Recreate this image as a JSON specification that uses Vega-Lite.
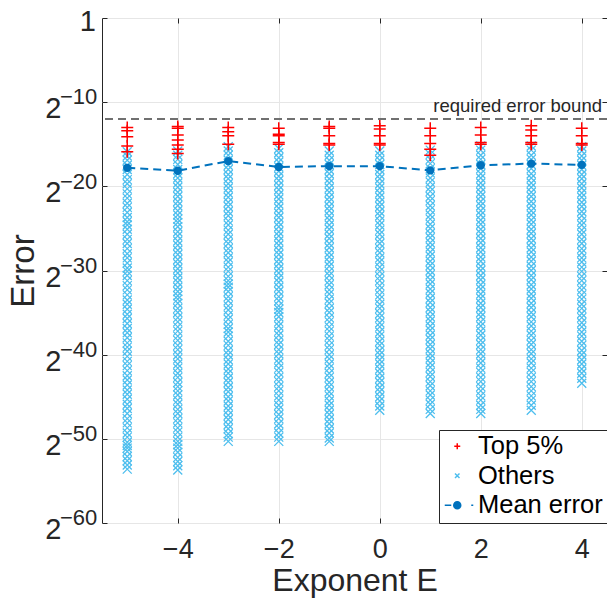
{
"$schema":"https://vega.github.io/schema/vega-lite/v6.json",
"width":505,"height":505,
"autosize":{"type":"none"},
"padding":{"left":102,"top":18,"right":0,"bottom":82},
"background":"white",
"config":{
"font":"Liberation Sans",
"view":{"stroke":"#262626","strokeWidth":1},
"axis":{"domain":false,"tickColor":"#262626","tickWidth":1,"tickSize":-5,"labelColor":"#262626","titleColor":"#262626","labelFont":"Liberation Sans","titleFont":"Liberation Sans","titleFontWeight":"normal","gridColor":"#e6e6e6","gridWidth":1,"labelFlush":false,"labelOverlap":false},
"legend":{"orient":"bottom-right","offset":0,"padding":3.5,"rowPadding":2.5,"strokeColor":"#262626","fillColor":"white","labelFontSize":25.5,"labelFont":"Liberation Sans","labelColor":"#000000","symbolSize":100,"symbolOffset":2,"labelOffset":8,"symbolStrokeWidth":1.5,"labelLimit":300}
},
"data":{"values":[
{"E":-5,"s":"m","v":-17.8},{"E":-4,"s":"m","v":-18.15},{"E":-3,"s":"m","v":-17.0},{"E":-2,"s":"m","v":-17.7},{"E":-1,"s":"m","v":-17.6},{"E":0,"s":"m","v":-17.6},{"E":1,"s":"m","v":-18.1},{"E":2,"s":"m","v":-17.5},{"E":3,"s":"m","v":-17.3},{"E":4,"s":"m","v":-17.45},
{"E":-5,"s":"t","v":-13.0},{"E":-5,"s":"t","v":-13.4},{"E":-5,"s":"t","v":-14.1},{"E":-5,"s":"t","v":-15.2},{"E":-5,"s":"t","v":-15.9},
{"E":-4,"s":"t","v":-12.9},{"E":-4,"s":"t","v":-13.1},{"E":-4,"s":"t","v":-13.9},{"E":-4,"s":"t","v":-14.5},{"E":-4,"s":"t","v":-15.1},{"E":-4,"s":"t","v":-15.6},{"E":-4,"s":"t","v":-16.1},
{"E":-3,"s":"t","v":-13.0},{"E":-3,"s":"t","v":-13.5},{"E":-3,"s":"t","v":-14.0},{"E":-3,"s":"t","v":-15.0},
{"E":-2,"s":"t","v":-13.1},{"E":-2,"s":"t","v":-13.8},{"E":-2,"s":"t","v":-14.0},{"E":-2,"s":"t","v":-14.8},{"E":-2,"s":"t","v":-15.0},
{"E":-1,"s":"t","v":-12.9},{"E":-1,"s":"t","v":-13.1},{"E":-1,"s":"t","v":-14.0},{"E":-1,"s":"t","v":-14.9},{"E":-1,"s":"t","v":-15.1},
{"E":0,"s":"t","v":-12.8},{"E":0,"s":"t","v":-13.2},{"E":0,"s":"t","v":-14.0},{"E":0,"s":"t","v":-14.9},{"E":0,"s":"t","v":-15.1},
{"E":1,"s":"t","v":-13.1},{"E":1,"s":"t","v":-14.0},{"E":1,"s":"t","v":-14.9},{"E":1,"s":"t","v":-15.6},{"E":1,"s":"t","v":-16.3},
{"E":2,"s":"t","v":-13.0},{"E":2,"s":"t","v":-13.9},{"E":2,"s":"t","v":-14.8},{"E":2,"s":"t","v":-15.0},
{"E":3,"s":"t","v":-12.8},{"E":3,"s":"t","v":-13.3},{"E":3,"s":"t","v":-14.0},{"E":3,"s":"t","v":-14.8},{"E":3,"s":"t","v":-15.0},
{"E":4,"s":"t","v":-13.1},{"E":4,"s":"t","v":-14.0},{"E":4,"s":"t","v":-14.9},{"E":4,"s":"t","v":-15.1},
{"E":-5,"s":"o","v":-15.9},{"E":-5,"s":"o","v":-16.4},{"E":-5,"s":"o","v":-16.9},{"E":-5,"s":"o","v":-17.5},{"E":-5,"s":"o","v":-18.0},{"E":-5,"s":"o","v":-18.6},{"E":-5,"s":"o","v":-19.2},{"E":-5,"s":"o","v":-19.7},{"E":-5,"s":"o","v":-20.3},{"E":-5,"s":"o","v":-20.9},{"E":-5,"s":"o","v":-21.4},{"E":-5,"s":"o","v":-22.0},{"E":-5,"s":"o","v":-22.5},{"E":-5,"s":"o","v":-23.1},{"E":-5,"s":"o","v":-23.7},{"E":-5,"s":"o","v":-24.2},{"E":-5,"s":"o","v":-24.6},{"E":-5,"s":"o","v":-25.1},{"E":-5,"s":"o","v":-25.7},{"E":-5,"s":"o","v":-26.3},{"E":-5,"s":"o","v":-26.8},{"E":-5,"s":"o","v":-27.4},{"E":-5,"s":"o","v":-28.0},{"E":-5,"s":"o","v":-28.5},{"E":-5,"s":"o","v":-29.1},{"E":-5,"s":"o","v":-29.7},{"E":-5,"s":"o","v":-30.1},{"E":-5,"s":"o","v":-30.6},{"E":-5,"s":"o","v":-31.2},{"E":-5,"s":"o","v":-31.8},{"E":-5,"s":"o","v":-32.3},{"E":-5,"s":"o","v":-32.9},{"E":-5,"s":"o","v":-33.5},{"E":-5,"s":"o","v":-34.0},{"E":-5,"s":"o","v":-34.6},{"E":-5,"s":"o","v":-35.2},{"E":-5,"s":"o","v":-35.7},{"E":-5,"s":"o","v":-36.3},{"E":-5,"s":"o","v":-36.9},{"E":-5,"s":"o","v":-37.4},{"E":-5,"s":"o","v":-38.0},{"E":-5,"s":"o","v":-38.6},{"E":-5,"s":"o","v":-39.1},{"E":-5,"s":"o","v":-39.6},{"E":-5,"s":"o","v":-40.2},{"E":-5,"s":"o","v":-40.8},{"E":-5,"s":"o","v":-41.3},{"E":-5,"s":"o","v":-41.9},{"E":-5,"s":"o","v":-42.5},{"E":-5,"s":"o","v":-43.0},{"E":-5,"s":"o","v":-43.6},{"E":-5,"s":"o","v":-44.2},{"E":-5,"s":"o","v":-44.7},{"E":-5,"s":"o","v":-45.3},{"E":-5,"s":"o","v":-45.9},{"E":-5,"s":"o","v":-46.4},{"E":-5,"s":"o","v":-47.0},{"E":-5,"s":"o","v":-47.6},{"E":-5,"s":"o","v":-48.1},{"E":-5,"s":"o","v":-48.7},{"E":-5,"s":"o","v":-49.3},{"E":-5,"s":"o","v":-49.8},{"E":-5,"s":"o","v":-50.4},{"E":-5,"s":"o","v":-50.8},{"E":-5,"s":"o","v":-51.1},{"E":-5,"s":"o","v":-51.5},{"E":-5,"s":"o","v":-52.1},{"E":-5,"s":"o","v":-52.6},{"E":-5,"s":"o","v":-53.1},{"E":-5,"s":"o","v":-53.6},
{"E":-4,"s":"o","v":-15.8},{"E":-4,"s":"o","v":-16.3},{"E":-4,"s":"o","v":-16.8},{"E":-4,"s":"o","v":-17.4},{"E":-4,"s":"o","v":-18.0},{"E":-4,"s":"o","v":-18.5},{"E":-4,"s":"o","v":-19.0},{"E":-4,"s":"o","v":-19.6},{"E":-4,"s":"o","v":-20.1},{"E":-4,"s":"o","v":-20.7},{"E":-4,"s":"o","v":-21.2},{"E":-4,"s":"o","v":-21.8},{"E":-4,"s":"o","v":-22.3},{"E":-4,"s":"o","v":-22.9},{"E":-4,"s":"o","v":-23.4},{"E":-4,"s":"o","v":-23.9},{"E":-4,"s":"o","v":-24.3},{"E":-4,"s":"o","v":-24.8},{"E":-4,"s":"o","v":-25.4},{"E":-4,"s":"o","v":-25.9},{"E":-4,"s":"o","v":-26.5},{"E":-4,"s":"o","v":-27.0},{"E":-4,"s":"o","v":-27.6},{"E":-4,"s":"o","v":-28.1},{"E":-4,"s":"o","v":-28.7},{"E":-4,"s":"o","v":-29.2},{"E":-4,"s":"o","v":-29.8},{"E":-4,"s":"o","v":-30.3},{"E":-4,"s":"o","v":-30.9},{"E":-4,"s":"o","v":-31.4},{"E":-4,"s":"o","v":-32.0},{"E":-4,"s":"o","v":-32.5},{"E":-4,"s":"o","v":-33.0},{"E":-4,"s":"o","v":-33.4},{"E":-4,"s":"o","v":-33.9},{"E":-4,"s":"o","v":-34.5},{"E":-4,"s":"o","v":-35.0},{"E":-4,"s":"o","v":-35.6},{"E":-4,"s":"o","v":-36.1},{"E":-4,"s":"o","v":-36.7},{"E":-4,"s":"o","v":-37.2},{"E":-4,"s":"o","v":-37.8},{"E":-4,"s":"o","v":-38.3},{"E":-4,"s":"o","v":-38.9},{"E":-4,"s":"o","v":-39.4},{"E":-4,"s":"o","v":-40.0},{"E":-4,"s":"o","v":-40.5},{"E":-4,"s":"o","v":-41.1},{"E":-4,"s":"o","v":-41.6},{"E":-4,"s":"o","v":-42.2},{"E":-4,"s":"o","v":-42.7},{"E":-4,"s":"o","v":-43.3},{"E":-4,"s":"o","v":-43.8},{"E":-4,"s":"o","v":-44.3},{"E":-4,"s":"o","v":-44.8},{"E":-4,"s":"o","v":-45.4},{"E":-4,"s":"o","v":-45.9},{"E":-4,"s":"o","v":-46.5},{"E":-4,"s":"o","v":-47.0},{"E":-4,"s":"o","v":-47.6},{"E":-4,"s":"o","v":-48.1},{"E":-4,"s":"o","v":-48.7},{"E":-4,"s":"o","v":-49.2},{"E":-4,"s":"o","v":-49.8},{"E":-4,"s":"o","v":-50.3},{"E":-4,"s":"o","v":-50.7},{"E":-4,"s":"o","v":-51.1},{"E":-4,"s":"o","v":-51.6},{"E":-4,"s":"o","v":-52.2},{"E":-4,"s":"o","v":-52.7},{"E":-4,"s":"o","v":-53.2},{"E":-4,"s":"o","v":-53.7},
{"E":-3,"s":"o","v":-15.3},{"E":-3,"s":"o","v":-15.8},{"E":-3,"s":"o","v":-16.3},{"E":-3,"s":"o","v":-16.9},{"E":-3,"s":"o","v":-17.5},{"E":-3,"s":"o","v":-18.0},{"E":-3,"s":"o","v":-18.6},{"E":-3,"s":"o","v":-19.1},{"E":-3,"s":"o","v":-19.7},{"E":-3,"s":"o","v":-20.2},{"E":-3,"s":"o","v":-20.8},{"E":-3,"s":"o","v":-21.3},{"E":-3,"s":"o","v":-21.9},{"E":-3,"s":"o","v":-22.4},{"E":-3,"s":"o","v":-23.0},{"E":-3,"s":"o","v":-23.5},{"E":-3,"s":"o","v":-24.1},{"E":-3,"s":"o","v":-24.6},{"E":-3,"s":"o","v":-25.2},{"E":-3,"s":"o","v":-25.7},{"E":-3,"s":"o","v":-26.3},{"E":-3,"s":"o","v":-26.8},{"E":-3,"s":"o","v":-27.4},{"E":-3,"s":"o","v":-27.9},{"E":-3,"s":"o","v":-28.5},{"E":-3,"s":"o","v":-29.0},{"E":-3,"s":"o","v":-29.6},{"E":-3,"s":"o","v":-30.1},{"E":-3,"s":"o","v":-30.7},{"E":-3,"s":"o","v":-31.2},{"E":-3,"s":"o","v":-31.6},{"E":-3,"s":"o","v":-32.0},{"E":-3,"s":"o","v":-32.5},{"E":-3,"s":"o","v":-33.1},{"E":-3,"s":"o","v":-33.6},{"E":-3,"s":"o","v":-34.2},{"E":-3,"s":"o","v":-34.7},{"E":-3,"s":"o","v":-35.3},{"E":-3,"s":"o","v":-35.8},{"E":-3,"s":"o","v":-36.4},{"E":-3,"s":"o","v":-36.9},{"E":-3,"s":"o","v":-37.3},{"E":-3,"s":"o","v":-37.8},{"E":-3,"s":"o","v":-38.4},{"E":-3,"s":"o","v":-38.9},{"E":-3,"s":"o","v":-39.5},{"E":-3,"s":"o","v":-40.0},{"E":-3,"s":"o","v":-40.6},{"E":-3,"s":"o","v":-41.1},{"E":-3,"s":"o","v":-41.7},{"E":-3,"s":"o","v":-42.2},{"E":-3,"s":"o","v":-42.8},{"E":-3,"s":"o","v":-43.3},{"E":-3,"s":"o","v":-43.9},{"E":-3,"s":"o","v":-44.4},{"E":-3,"s":"o","v":-45.0},{"E":-3,"s":"o","v":-45.5},{"E":-3,"s":"o","v":-46.1},{"E":-3,"s":"o","v":-46.6},{"E":-3,"s":"o","v":-47.2},{"E":-3,"s":"o","v":-47.7},{"E":-3,"s":"o","v":-48.3},{"E":-3,"s":"o","v":-48.8},{"E":-3,"s":"o","v":-49.4},{"E":-3,"s":"o","v":-49.8},{"E":-3,"s":"o","v":-50.3},
{"E":-2,"s":"o","v":-15.5},{"E":-2,"s":"o","v":-16.0},{"E":-2,"s":"o","v":-16.6},{"E":-2,"s":"o","v":-17.1},{"E":-2,"s":"o","v":-17.7},{"E":-2,"s":"o","v":-18.2},{"E":-2,"s":"o","v":-18.8},{"E":-2,"s":"o","v":-19.3},{"E":-2,"s":"o","v":-19.9},{"E":-2,"s":"o","v":-20.4},{"E":-2,"s":"o","v":-21.0},{"E":-2,"s":"o","v":-21.5},{"E":-2,"s":"o","v":-22.1},{"E":-2,"s":"o","v":-22.6},{"E":-2,"s":"o","v":-23.2},{"E":-2,"s":"o","v":-23.7},{"E":-2,"s":"o","v":-24.3},{"E":-2,"s":"o","v":-24.8},{"E":-2,"s":"o","v":-25.4},{"E":-2,"s":"o","v":-25.9},{"E":-2,"s":"o","v":-26.5},{"E":-2,"s":"o","v":-27.0},{"E":-2,"s":"o","v":-27.6},{"E":-2,"s":"o","v":-28.1},{"E":-2,"s":"o","v":-28.7},{"E":-2,"s":"o","v":-29.2},{"E":-2,"s":"o","v":-29.8},{"E":-2,"s":"o","v":-30.3},{"E":-2,"s":"o","v":-30.9},{"E":-2,"s":"o","v":-31.4},{"E":-2,"s":"o","v":-32.0},{"E":-2,"s":"o","v":-32.5},{"E":-2,"s":"o","v":-33.1},{"E":-2,"s":"o","v":-33.6},{"E":-2,"s":"o","v":-34.2},{"E":-2,"s":"o","v":-34.6},{"E":-2,"s":"o","v":-35.0},{"E":-2,"s":"o","v":-35.5},{"E":-2,"s":"o","v":-36.1},{"E":-2,"s":"o","v":-36.6},{"E":-2,"s":"o","v":-37.2},{"E":-2,"s":"o","v":-37.7},{"E":-2,"s":"o","v":-38.3},{"E":-2,"s":"o","v":-38.8},{"E":-2,"s":"o","v":-39.4},{"E":-2,"s":"o","v":-39.9},{"E":-2,"s":"o","v":-40.5},{"E":-2,"s":"o","v":-41.0},{"E":-2,"s":"o","v":-41.6},{"E":-2,"s":"o","v":-42.1},{"E":-2,"s":"o","v":-42.7},{"E":-2,"s":"o","v":-43.2},{"E":-2,"s":"o","v":-43.8},{"E":-2,"s":"o","v":-44.3},{"E":-2,"s":"o","v":-44.9},{"E":-2,"s":"o","v":-45.4},{"E":-2,"s":"o","v":-46.0},{"E":-2,"s":"o","v":-46.5},{"E":-2,"s":"o","v":-47.1},{"E":-2,"s":"o","v":-47.6},{"E":-2,"s":"o","v":-48.2},{"E":-2,"s":"o","v":-48.7},{"E":-2,"s":"o","v":-49.3},{"E":-2,"s":"o","v":-49.8},{"E":-2,"s":"o","v":-50.3},
{"E":-1,"s":"o","v":-15.8},{"E":-1,"s":"o","v":-16.3},{"E":-1,"s":"o","v":-16.9},{"E":-1,"s":"o","v":-17.4},{"E":-1,"s":"o","v":-18.0},{"E":-1,"s":"o","v":-18.5},{"E":-1,"s":"o","v":-19.1},{"E":-1,"s":"o","v":-19.6},{"E":-1,"s":"o","v":-20.2},{"E":-1,"s":"o","v":-20.7},{"E":-1,"s":"o","v":-21.3},{"E":-1,"s":"o","v":-21.8},{"E":-1,"s":"o","v":-22.4},{"E":-1,"s":"o","v":-22.9},{"E":-1,"s":"o","v":-23.5},{"E":-1,"s":"o","v":-24.0},{"E":-1,"s":"o","v":-24.6},{"E":-1,"s":"o","v":-25.1},{"E":-1,"s":"o","v":-25.7},{"E":-1,"s":"o","v":-26.2},{"E":-1,"s":"o","v":-26.8},{"E":-1,"s":"o","v":-27.3},{"E":-1,"s":"o","v":-27.9},{"E":-1,"s":"o","v":-28.4},{"E":-1,"s":"o","v":-29.0},{"E":-1,"s":"o","v":-29.5},{"E":-1,"s":"o","v":-30.1},{"E":-1,"s":"o","v":-30.6},{"E":-1,"s":"o","v":-31.2},{"E":-1,"s":"o","v":-31.7},{"E":-1,"s":"o","v":-32.3},{"E":-1,"s":"o","v":-32.8},{"E":-1,"s":"o","v":-33.4},{"E":-1,"s":"o","v":-33.9},{"E":-1,"s":"o","v":-34.5},{"E":-1,"s":"o","v":-35.0},{"E":-1,"s":"o","v":-35.6},{"E":-1,"s":"o","v":-36.1},{"E":-1,"s":"o","v":-36.7},{"E":-1,"s":"o","v":-37.2},{"E":-1,"s":"o","v":-37.8},{"E":-1,"s":"o","v":-38.3},{"E":-1,"s":"o","v":-38.9},{"E":-1,"s":"o","v":-39.4},{"E":-1,"s":"o","v":-40.0},{"E":-1,"s":"o","v":-40.5},{"E":-1,"s":"o","v":-41.1},{"E":-1,"s":"o","v":-41.6},{"E":-1,"s":"o","v":-42.2},{"E":-1,"s":"o","v":-42.7},{"E":-1,"s":"o","v":-43.3},{"E":-1,"s":"o","v":-43.8},{"E":-1,"s":"o","v":-44.4},{"E":-1,"s":"o","v":-44.9},{"E":-1,"s":"o","v":-45.5},{"E":-1,"s":"o","v":-46.0},{"E":-1,"s":"o","v":-46.6},{"E":-1,"s":"o","v":-47.1},{"E":-1,"s":"o","v":-47.7},{"E":-1,"s":"o","v":-48.2},{"E":-1,"s":"o","v":-48.8},{"E":-1,"s":"o","v":-49.3},{"E":-1,"s":"o","v":-49.9},{"E":-1,"s":"o","v":-50.3},
{"E":0,"s":"o","v":-15.8},{"E":0,"s":"o","v":-16.3},{"E":0,"s":"o","v":-16.9},{"E":0,"s":"o","v":-17.4},{"E":0,"s":"o","v":-18.0},{"E":0,"s":"o","v":-18.6},{"E":0,"s":"o","v":-19.1},{"E":0,"s":"o","v":-19.7},{"E":0,"s":"o","v":-20.2},{"E":0,"s":"o","v":-20.8},{"E":0,"s":"o","v":-21.3},{"E":0,"s":"o","v":-21.9},{"E":0,"s":"o","v":-22.4},{"E":0,"s":"o","v":-23.0},{"E":0,"s":"o","v":-23.5},{"E":0,"s":"o","v":-24.1},{"E":0,"s":"o","v":-24.6},{"E":0,"s":"o","v":-25.2},{"E":0,"s":"o","v":-25.7},{"E":0,"s":"o","v":-26.3},{"E":0,"s":"o","v":-26.8},{"E":0,"s":"o","v":-27.4},{"E":0,"s":"o","v":-27.9},{"E":0,"s":"o","v":-28.5},{"E":0,"s":"o","v":-29.0},{"E":0,"s":"o","v":-29.6},{"E":0,"s":"o","v":-30.1},{"E":0,"s":"o","v":-30.7},{"E":0,"s":"o","v":-31.2},{"E":0,"s":"o","v":-31.8},{"E":0,"s":"o","v":-32.3},{"E":0,"s":"o","v":-32.9},{"E":0,"s":"o","v":-33.4},{"E":0,"s":"o","v":-34.0},{"E":0,"s":"o","v":-34.5},{"E":0,"s":"o","v":-35.1},{"E":0,"s":"o","v":-35.6},{"E":0,"s":"o","v":-36.2},{"E":0,"s":"o","v":-36.7},{"E":0,"s":"o","v":-37.3},{"E":0,"s":"o","v":-37.8},{"E":0,"s":"o","v":-38.4},{"E":0,"s":"o","v":-38.9},{"E":0,"s":"o","v":-39.5},{"E":0,"s":"o","v":-40.0},{"E":0,"s":"o","v":-40.6},{"E":0,"s":"o","v":-41.1},{"E":0,"s":"o","v":-41.7},{"E":0,"s":"o","v":-42.2},{"E":0,"s":"o","v":-42.8},{"E":0,"s":"o","v":-43.3},{"E":0,"s":"o","v":-43.9},{"E":0,"s":"o","v":-44.4},{"E":0,"s":"o","v":-45.0},{"E":0,"s":"o","v":-45.5},{"E":0,"s":"o","v":-46.1},{"E":0,"s":"o","v":-46.6},
{"E":1,"s":"o","v":-15.7},{"E":1,"s":"o","v":-16.2},{"E":1,"s":"o","v":-16.8},{"E":1,"s":"o","v":-17.3},{"E":1,"s":"o","v":-17.9},{"E":1,"s":"o","v":-18.4},{"E":1,"s":"o","v":-19.0},{"E":1,"s":"o","v":-19.5},{"E":1,"s":"o","v":-20.1},{"E":1,"s":"o","v":-20.6},{"E":1,"s":"o","v":-21.2},{"E":1,"s":"o","v":-21.7},{"E":1,"s":"o","v":-22.3},{"E":1,"s":"o","v":-22.8},{"E":1,"s":"o","v":-23.4},{"E":1,"s":"o","v":-23.9},{"E":1,"s":"o","v":-24.5},{"E":1,"s":"o","v":-25.0},{"E":1,"s":"o","v":-25.6},{"E":1,"s":"o","v":-26.1},{"E":1,"s":"o","v":-26.7},{"E":1,"s":"o","v":-27.2},{"E":1,"s":"o","v":-27.8},{"E":1,"s":"o","v":-28.3},{"E":1,"s":"o","v":-28.9},{"E":1,"s":"o","v":-29.4},{"E":1,"s":"o","v":-30.0},{"E":1,"s":"o","v":-30.5},{"E":1,"s":"o","v":-31.1},{"E":1,"s":"o","v":-31.6},{"E":1,"s":"o","v":-32.2},{"E":1,"s":"o","v":-32.7},{"E":1,"s":"o","v":-33.3},{"E":1,"s":"o","v":-33.8},{"E":1,"s":"o","v":-34.4},{"E":1,"s":"o","v":-34.9},{"E":1,"s":"o","v":-35.5},{"E":1,"s":"o","v":-36.0},{"E":1,"s":"o","v":-36.6},{"E":1,"s":"o","v":-37.1},{"E":1,"s":"o","v":-37.7},{"E":1,"s":"o","v":-38.2},{"E":1,"s":"o","v":-38.8},{"E":1,"s":"o","v":-39.3},{"E":1,"s":"o","v":-39.9},{"E":1,"s":"o","v":-40.4},{"E":1,"s":"o","v":-41.0},{"E":1,"s":"o","v":-41.5},{"E":1,"s":"o","v":-42.1},{"E":1,"s":"o","v":-42.6},{"E":1,"s":"o","v":-43.2},{"E":1,"s":"o","v":-43.7},{"E":1,"s":"o","v":-44.3},{"E":1,"s":"o","v":-44.8},{"E":1,"s":"o","v":-45.4},{"E":1,"s":"o","v":-45.9},{"E":1,"s":"o","v":-46.5},{"E":1,"s":"o","v":-47.0},
{"E":2,"s":"o","v":-15.2},{"E":2,"s":"o","v":-15.7},{"E":2,"s":"o","v":-16.3},{"E":2,"s":"o","v":-16.8},{"E":2,"s":"o","v":-17.4},{"E":2,"s":"o","v":-17.9},{"E":2,"s":"o","v":-18.5},{"E":2,"s":"o","v":-19.0},{"E":2,"s":"o","v":-19.6},{"E":2,"s":"o","v":-20.1},{"E":2,"s":"o","v":-20.7},{"E":2,"s":"o","v":-21.2},{"E":2,"s":"o","v":-21.8},{"E":2,"s":"o","v":-22.3},{"E":2,"s":"o","v":-22.9},{"E":2,"s":"o","v":-23.4},{"E":2,"s":"o","v":-24.0},{"E":2,"s":"o","v":-24.5},{"E":2,"s":"o","v":-25.1},{"E":2,"s":"o","v":-25.6},{"E":2,"s":"o","v":-26.2},{"E":2,"s":"o","v":-26.7},{"E":2,"s":"o","v":-27.3},{"E":2,"s":"o","v":-27.8},{"E":2,"s":"o","v":-28.4},{"E":2,"s":"o","v":-28.9},{"E":2,"s":"o","v":-29.5},{"E":2,"s":"o","v":-30.0},{"E":2,"s":"o","v":-30.6},{"E":2,"s":"o","v":-31.1},{"E":2,"s":"o","v":-31.7},{"E":2,"s":"o","v":-32.2},{"E":2,"s":"o","v":-32.8},{"E":2,"s":"o","v":-33.3},{"E":2,"s":"o","v":-33.9},{"E":2,"s":"o","v":-34.4},{"E":2,"s":"o","v":-35.0},{"E":2,"s":"o","v":-35.5},{"E":2,"s":"o","v":-36.1},{"E":2,"s":"o","v":-36.6},{"E":2,"s":"o","v":-37.2},{"E":2,"s":"o","v":-37.7},{"E":2,"s":"o","v":-38.3},{"E":2,"s":"o","v":-38.8},{"E":2,"s":"o","v":-39.4},{"E":2,"s":"o","v":-39.9},{"E":2,"s":"o","v":-40.5},{"E":2,"s":"o","v":-41.0},{"E":2,"s":"o","v":-41.6},{"E":2,"s":"o","v":-42.1},{"E":2,"s":"o","v":-42.7},{"E":2,"s":"o","v":-43.2},{"E":2,"s":"o","v":-43.8},{"E":2,"s":"o","v":-44.3},{"E":2,"s":"o","v":-44.9},{"E":2,"s":"o","v":-45.4},{"E":2,"s":"o","v":-46.0},{"E":2,"s":"o","v":-46.5},{"E":2,"s":"o","v":-47.0},
{"E":3,"s":"o","v":-15.2},{"E":3,"s":"o","v":-15.7},{"E":3,"s":"o","v":-16.3},{"E":3,"s":"o","v":-16.8},{"E":3,"s":"o","v":-17.4},{"E":3,"s":"o","v":-17.9},{"E":3,"s":"o","v":-18.5},{"E":3,"s":"o","v":-19.0},{"E":3,"s":"o","v":-19.6},{"E":3,"s":"o","v":-20.1},{"E":3,"s":"o","v":-20.7},{"E":3,"s":"o","v":-21.2},{"E":3,"s":"o","v":-21.8},{"E":3,"s":"o","v":-22.3},{"E":3,"s":"o","v":-22.9},{"E":3,"s":"o","v":-23.4},{"E":3,"s":"o","v":-24.0},{"E":3,"s":"o","v":-24.5},{"E":3,"s":"o","v":-25.1},{"E":3,"s":"o","v":-25.6},{"E":3,"s":"o","v":-26.2},{"E":3,"s":"o","v":-26.7},{"E":3,"s":"o","v":-27.3},{"E":3,"s":"o","v":-27.8},{"E":3,"s":"o","v":-28.4},{"E":3,"s":"o","v":-28.9},{"E":3,"s":"o","v":-29.5},{"E":3,"s":"o","v":-30.0},{"E":3,"s":"o","v":-30.6},{"E":3,"s":"o","v":-31.1},{"E":3,"s":"o","v":-31.7},{"E":3,"s":"o","v":-32.2},{"E":3,"s":"o","v":-32.8},{"E":3,"s":"o","v":-33.3},{"E":3,"s":"o","v":-33.9},{"E":3,"s":"o","v":-34.4},{"E":3,"s":"o","v":-35.0},{"E":3,"s":"o","v":-35.5},{"E":3,"s":"o","v":-36.1},{"E":3,"s":"o","v":-36.6},{"E":3,"s":"o","v":-37.2},{"E":3,"s":"o","v":-37.7},{"E":3,"s":"o","v":-38.3},{"E":3,"s":"o","v":-38.8},{"E":3,"s":"o","v":-39.4},{"E":3,"s":"o","v":-39.9},{"E":3,"s":"o","v":-40.5},{"E":3,"s":"o","v":-41.0},{"E":3,"s":"o","v":-41.6},{"E":3,"s":"o","v":-42.1},{"E":3,"s":"o","v":-42.7},{"E":3,"s":"o","v":-43.2},{"E":3,"s":"o","v":-43.8},{"E":3,"s":"o","v":-44.3},{"E":3,"s":"o","v":-44.9},{"E":3,"s":"o","v":-45.4},{"E":3,"s":"o","v":-46.0},{"E":3,"s":"o","v":-46.6},
{"E":4,"s":"o","v":-15.3},{"E":4,"s":"o","v":-15.8},{"E":4,"s":"o","v":-16.4},{"E":4,"s":"o","v":-16.9},{"E":4,"s":"o","v":-17.5},{"E":4,"s":"o","v":-18.0},{"E":4,"s":"o","v":-18.6},{"E":4,"s":"o","v":-19.1},{"E":4,"s":"o","v":-19.7},{"E":4,"s":"o","v":-20.2},{"E":4,"s":"o","v":-20.8},{"E":4,"s":"o","v":-21.3},{"E":4,"s":"o","v":-21.9},{"E":4,"s":"o","v":-22.4},{"E":4,"s":"o","v":-23.0},{"E":4,"s":"o","v":-23.5},{"E":4,"s":"o","v":-24.1},{"E":4,"s":"o","v":-24.6},{"E":4,"s":"o","v":-25.2},{"E":4,"s":"o","v":-25.7},{"E":4,"s":"o","v":-26.3},{"E":4,"s":"o","v":-26.8},{"E":4,"s":"o","v":-27.4},{"E":4,"s":"o","v":-27.9},{"E":4,"s":"o","v":-28.5},{"E":4,"s":"o","v":-29.0},{"E":4,"s":"o","v":-29.6},{"E":4,"s":"o","v":-30.1},{"E":4,"s":"o","v":-30.7},{"E":4,"s":"o","v":-31.2},{"E":4,"s":"o","v":-31.8},{"E":4,"s":"o","v":-32.3},{"E":4,"s":"o","v":-32.9},{"E":4,"s":"o","v":-33.4},{"E":4,"s":"o","v":-34.0},{"E":4,"s":"o","v":-34.5},{"E":4,"s":"o","v":-35.1},{"E":4,"s":"o","v":-35.6},{"E":4,"s":"o","v":-36.2},{"E":4,"s":"o","v":-36.7},{"E":4,"s":"o","v":-37.3},{"E":4,"s":"o","v":-37.8},{"E":4,"s":"o","v":-38.4},{"E":4,"s":"o","v":-38.9},{"E":4,"s":"o","v":-39.5},{"E":4,"s":"o","v":-40.0},{"E":4,"s":"o","v":-40.6},{"E":4,"s":"o","v":-41.1},{"E":4,"s":"o","v":-41.7},{"E":4,"s":"o","v":-42.2},{"E":4,"s":"o","v":-42.8},{"E":4,"s":"o","v":-43.4}
]},
"layer":[
{"transform":[{"filter":"datum.s==='o'"}],
 "mark":{"type":"point","filled":false,"strokeWidth":1.3,"opacity":1,"size":400},
 "encoding":{
  "x":{"field":"E","type":"quantitative","scale":{"domain":[-5.5,4.5],"nice":false,"zero":false},
   "axis":{"orient":"bottom","values":[-4,-2,0,2,4],"labelExpr":"datum.value<0?'\u2212'+abs(datum.value):''+datum.value","labelFontSize":27,"labelBaseline":"top","labelPadding":18,"grid":true,"title":"Exponent E","titleFontSize":32,"titlePadding":3.5}},
  "y":{"field":"v","type":"quantitative","scale":{"domain":[-60,0],"nice":false,"zero":false},
   "axis":{"orient":"left","values":[-60,-50,-40,-30,-20,-10,0],"labelExpr":"datum.value===0?'1':'2'","labelFontSize":29,"labelAlign":"right","labelBaseline":"middle","labelPadding":{"condition":{"test":"datum.value===0","value":11.5},"value":46},"labelOffset":{"condition":{"test":"datum.value===0","value":3},"value":6.5},"grid":true,"title":"Error","titleFontSize":33,"titlePadding":4.5}},
  "color":{"field":"s","type":"nominal","scale":{"domain":["t","o","m"],"range":["#FF0000","#4DBEEE","#0072BD"]},
   "legend":{"title":null,"labelExpr":"datum.label==='t'?'Top 5%':datum.label==='o'?'Others':'Mean error'","encode":{"symbols":{"update":{"fill":{"value":"transparent"},"stroke":{"scale":"color","field":"value"},"strokeWidth":{"value":1.5},"strokeDash":{"value":[]},"shape":{"scale":"shape","field":"value"},"size":{"value":100},"opacity":{"value":1}}}}}},
  "shape":{"field":"s","type":"nominal","scale":{"domain":["t","o","m"],"range":["M-0.6,0H0.6M0,-0.6V0.6","M-0.45,-0.45L0.45,0.45M-0.45,0.45L0.45,-0.45","M-2.5,0H-1.2M0.7,0A0.7,0.7,0,1,1,-0.7,0A0.7,0.7,0,1,1,0.7,0M0.45,0A0.45,0.45,0,1,1,-0.45,0A0.45,0.45,0,1,1,0.45,0M0.2,0A0.2,0.2,0,1,1,-0.2,0A0.2,0.2,0,1,1,0.2,0M2.8,0H3.2"]},
   "legend":{"title":null,"labelExpr":"datum.label==='t'?'Top 5%':datum.label==='o'?'Others':'Mean error'","encode":{"symbols":{"update":{"fill":{"value":"transparent"},"stroke":{"scale":"color","field":"value"},"strokeWidth":{"value":1.5},"strokeDash":{"value":[]},"shape":{"scale":"shape","field":"value"},"size":{"value":100},"opacity":{"value":1}}}}}}
 }},
{"transform":[{"filter":"datum.s==='t'"}],
 "mark":{"type":"point","filled":false,"strokeWidth":1.5,"opacity":1,"size":400},
 "encoding":{
  "x":{"field":"E","type":"quantitative","scale":{"domain":[-5.5,4.5],"nice":false,"zero":false},
   "axis":{"orient":"top","values":[-4,-2,0,2,4],"labels":false,"grid":false,"title":null}},
  "y":{"field":"v","type":"quantitative","scale":{"domain":[-60,0],"nice":false,"zero":false},
   "axis":{"orient":"left","values":[-60,-50,-40,-30,-20,-10,0],"labelExpr":"datum.value===0?'':'\u2212'+abs(datum.value)","labelFontSize":22,"labelAlign":"left","labelBaseline":"middle","ticks":false,"labelPadding":42.6,"labelOffset":-5.2,"grid":false,"title":null}},
  "color":{"field":"s","type":"nominal","scale":{"domain":["t","o","m"],"range":["#FF0000","#4DBEEE","#0072BD"]}},
  "shape":{"field":"s","type":"nominal","scale":{"domain":["t","o","m"],"range":["M-0.6,0H0.6M0,-0.6V0.6","M-0.45,-0.45L0.45,0.45M-0.45,0.45L0.45,-0.45","M-2.5,0H-1.2M0.7,0A0.7,0.7,0,1,1,-0.7,0A0.7,0.7,0,1,1,0.7,0M0.45,0A0.45,0.45,0,1,1,-0.45,0A0.45,0.45,0,1,1,0.45,0M0.2,0A0.2,0.2,0,1,1,-0.2,0A0.2,0.2,0,1,1,0.2,0M2.8,0H3.2"]}}
 }},
{"data":{"values":[{"bound":-12}]},
 "mark":{"type":"rule","strokeDash":[8,5],"strokeWidth":2,"color":"#707070"},
 "encoding":{"y":{"field":"bound","type":"quantitative","scale":{"domain":[-60,0],"nice":false,"zero":false},"axis":null}}},
{"data":{"values":[{"bound":-12,"xr":4.5,"label":"required error bound"}]},
 "mark":{"type":"text","align":"right","baseline":"alphabetic","dx":-5,"dy":-7,"fontSize":18.5,"color":"#262626","font":"Liberation Sans"},
 "encoding":{"text":{"field":"label"},"x":{"field":"xr","type":"quantitative","scale":{"domain":[-5.5,4.5],"nice":false,"zero":false},"axis":null},"y":{"field":"bound","type":"quantitative","scale":{"domain":[-60,0],"nice":false,"zero":false},"axis":null}}},
{"transform":[{"filter":"datum.s==='m'"}],
 "mark":{"type":"line","strokeDash":[8,5],"strokeWidth":2},
 "encoding":{
  "x":{"field":"E","type":"quantitative","scale":{"domain":[-5.5,4.5],"nice":false,"zero":false},"axis":null},
  "y":{"field":"v","type":"quantitative","scale":{"domain":[-60,0],"nice":false,"zero":false},
   "axis":{"orient":"right","values":[-60,-50,-40,-30,-20,-10,0],"labels":false,"grid":false,"title":null}},
  "color":{"field":"s","type":"nominal","scale":{"domain":["t","o","m"],"range":["#FF0000","#4DBEEE","#0072BD"]}}
 }},
{"transform":[{"filter":"datum.s==='m'"}],
 "mark":{"type":"point","filled":true,"shape":"circle","size":70,"opacity":1},
 "encoding":{
  "x":{"field":"E","type":"quantitative","scale":{"domain":[-5.5,4.5],"nice":false,"zero":false},"axis":null},
  "y":{"field":"v","type":"quantitative","scale":{"domain":[-60,0],"nice":false,"zero":false},"axis":null},
  "color":{"field":"s","type":"nominal","scale":{"domain":["t","o","m"],"range":["#FF0000","#4DBEEE","#0072BD"]}}
 }}
],
"resolve":{"axis":{"x":"independent","y":"independent"}}
}
